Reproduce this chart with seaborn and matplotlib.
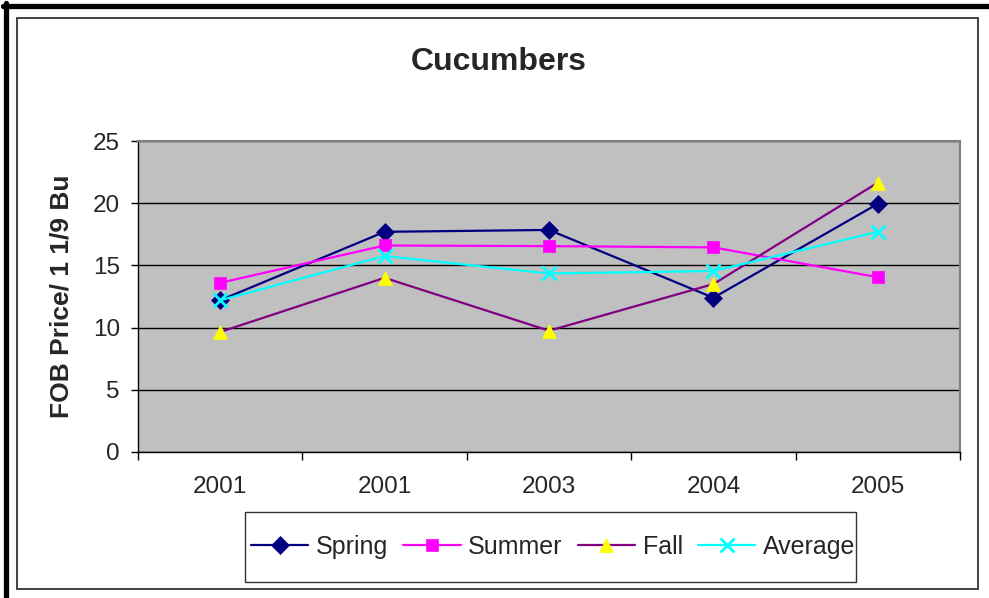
import pandas as pd
import numpy as np
import seaborn as sns
import matplotlib.pyplot as plt
from matplotlib.lines import Line2D
from matplotlib.patches import Rectangle

# data
years = ["2001", "2001", "2003", "2004", "2005"]
spring = [12.2, 17.7, 17.85, 12.4, 19.95]
summer = [13.6, 16.6, 16.55, 16.45, 14.05]
fall = [9.65, 14.0, 9.75, 13.5, 21.65]
average = [12.2, 15.75, 14.35, 14.55, 17.7]
series_names = ["Spring", "Summer", "Fall", "Average"]

sns.set_style("white")
plt.rcParams["font.family"] = ["Liberation Sans", "DejaVu Sans"]

pos = np.arange(len(years))
df = pd.DataFrame({
    "pos": np.tile(pos, 4),
    "price": spring + summer + fall + average,
    "season": np.repeat(series_names, len(years)),
})

# line colour, marker, marker face, marker size
styles = {
    "Spring": ("#000080", "D", "#000080", 9.5),
    "Summer": ("#FF00FF", "s", "#FF00FF", 8.5),
    "Fall": ("#800080", "^", "#FFFF00", 10),
    "Average": ("#00FFFF", "x", "#00FFFF", 10),
}

fig = plt.figure(figsize=(9.89, 5.98), dpi=100)
ax = fig.add_axes([138 / 989, 1 - 452 / 598, 822 / 989, 311 / 598])
ax.set_facecolor("#C0C0C0")

handles = []
for name in series_names:
    col, mk, face, ms = styles[name]
    sub = df[df["season"] == name]
    sns.lineplot(data=sub, x="pos", y="price", ax=ax, color=col, marker=mk,
                 markerfacecolor=face, markeredgecolor=face, markersize=ms,
                 markeredgewidth=2 if mk == "x" else 0.5, linewidth=1.6,
                 legend=False)
    handles.append(Line2D([], [], color=col, marker=mk, markerfacecolor=face,
                          markeredgecolor=face, markersize=ms,
                          markeredgewidth=2 if mk == "x" else 0.5,
                          linewidth=1.6, label=name))

ax.set_xlim(-0.5, 4.5)
ax.set_ylim(0, 25)
ax.set_yticks(range(0, 26, 5))
ax.set_xticks(pos)
ax.set_xticklabels(years)
ax.set_xticks(np.arange(-0.5, 5, 1), minor=True)
ax.set_xlabel("")
ax.set_ylabel("")
ax.tick_params(axis="x", which="major", length=0, pad=17, labelsize=17.5)
ax.tick_params(axis="x", which="minor", length=6, width=1, color="black",
               direction="out", bottom=True)
ax.tick_params(axis="y", length=5, width=1, color="black", direction="out",
               left=True, pad=8, labelsize=17.5)

ax.yaxis.grid(True, color="black", linewidth=1)
ax.xaxis.grid(False)
ax.set_axisbelow(True)
for side in ["left", "bottom"]:
    ax.spines[side].set_color("black")
    ax.spines[side].set_linewidth(1)
for side in ["top", "right"]:
    ax.spines[side].set_color("#808080")
    ax.spines[side].set_linewidth(1.5)

# titles
fig.text(499 / 989, 1 - 62 / 598, "Cucumbers", ha="center", va="center",
         fontsize=23, fontweight="bold")
fig.text(62 / 989, 1 - 296 / 598, "FOB Price/ 1 1/9 Bu", ha="center",
         va="center", rotation=90, fontsize=19, fontweight="bold")

# legend
fig.legend(handles=handles, loc="center", ncol=4, frameon=False,
           bbox_to_anchor=(553 / 989, 1 - 547 / 598), fontsize=18,
           handlelength=2.3, handletextpad=0.3, columnspacing=0.6)
fig.add_artist(Rectangle((245 / 989, 1 - 582 / 598), 611 / 989, 70 / 598,
                         transform=fig.transFigure, fill=False,
                         edgecolor="#333333", linewidth=1))

# chart frames
fig.add_artist(Rectangle((17 / 989, 1 - 589 / 598), 961 / 989, 571 / 598,
                         transform=fig.transFigure, fill=False,
                         edgecolor="#333333", linewidth=1.3))
fig.add_artist(Line2D([5.5 / 989, 5.5 / 989], [0, 1 - 3 / 598],
                      transform=fig.transFigure, color="black", linewidth=3.8))
fig.add_artist(Line2D([3 / 989, 1], [1 - 5.5 / 598, 1 - 5.5 / 598],
                      transform=fig.transFigure, color="black", linewidth=3.8))

fig.savefig("out.png", dpi=100)
